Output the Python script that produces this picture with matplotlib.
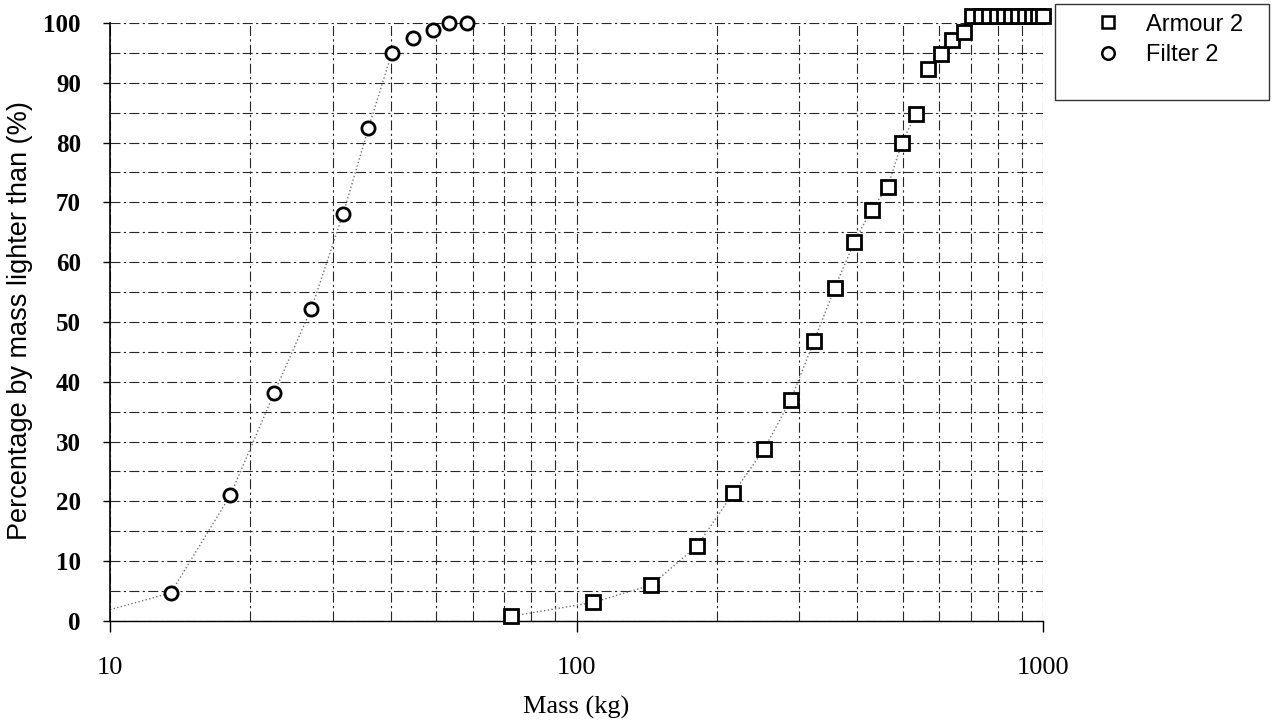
"""
Grading curves (mass distribution) for armour and filter rock
"""

import numpy as np
import matplotlib.pyplot as plt
from matplotlib.patches import Rectangle
from matplotlib.ticker import FixedLocator, NullFormatter

# 读取自原图的数据
filter_mass = [13.5, 18.1, 22.5, 27.0, 31.6, 35.8, 40.2, 44.6, 49.3, 53.4, 58.1]
filter_pct = [4.7, 21.0, 38.2, 52.2, 68.1, 82.4, 95.0, 97.5, 98.8, 100.0, 100.0]

armour_mass = [72.5, 108.4, 144.6, 181, 216.9, 252.3, 287.9, 323, 357.8, 393.6,
               429, 464.2, 498.2, 534, 567.5, 604, 637.9, 675.9,
               705, 735, 765, 795, 825, 855, 885, 915, 945, 975, 1000]
armour_pct = [0.8, 3.1, 6.0, 12.5, 21.4, 28.7, 37.0, 46.8, 55.7, 63.3,
              68.8, 72.5, 79.9, 84.8, 92.3, 94.8, 97.1, 98.5,
              101.2, 101.2, 101.2, 101.2, 101.2, 101.2, 101.2, 101.2, 101.2, 101.2, 101.2]

# 趋势线（点线）
filter_trend_mass = [10, 13.5, 18.1, 22.5, 27.0, 31.6, 35.8, 40.2]
filter_trend_pct = [1.9, 4.7, 21.0, 38.2, 52.2, 68.1, 82.4, 95.0]
armour_trend_mass = armour_mass[:14]
armour_trend_pct = armour_pct[:14]

x_ticks = [10, 100, 1000]
y_ticks = list(range(0, 101, 10))

SERIF = 'Liberation Serif'
SANS = 'Liberation Sans'

fig = plt.figure(figsize=(12.78, 7.27), dpi=100)
ax = fig.add_axes([0.0861, 0.1458, 0.7300, 0.8226])

ax.set_xscale('log')
ax.set_xlim(10, 1000)
ax.set_ylim(0, 100)

# 网格
ax.set_yticks(y_ticks)
ax.yaxis.set_minor_locator(FixedLocator(range(5, 100, 10)))
ax.set_xticks(x_ticks)
ax.xaxis.set_minor_formatter(NullFormatter())
grid_style = dict(color='0.15', linestyle=(0, (9, 3, 2, 3)), linewidth=0.8)
ax.grid(True, which='both', **grid_style)
ax.set_axisbelow(True)

for side in ['top', 'right']:
    ax.spines[side].set_visible(False)
ax.spines['left'].set_linewidth(1.2)
ax.spines['bottom'].set_linewidth(1.0)

ax.tick_params(axis='y', which='major', length=5, width=1, pad=16)
ax.tick_params(axis='x', which='major', length=8, width=1, pad=18)
ax.tick_params(which='minor', length=0)

for lab in ax.get_yticklabels():
    lab.set_fontfamily(SERIF)
    lab.set_fontsize(18)
    lab.set_fontweight('bold')
ax.set_xticklabels([str(v) for v in x_ticks], fontfamily=SERIF, fontsize=19)

# 趋势线
ax.plot(filter_trend_mass, filter_trend_pct, color='0.45', linestyle=':',
        linewidth=1.0, zorder=2)
ax.plot(armour_trend_mass, armour_trend_pct, color='0.45', linestyle=':',
        linewidth=1.0, zorder=2)

# 数据点
ax.plot(armour_mass, armour_pct, linestyle='none', marker='s', markersize=9.5,
        markerfacecolor='white', markeredgecolor='black', markeredgewidth=2.0,
        label='Armour 2', clip_on=False, zorder=4)
ax.plot(filter_mass, filter_pct, linestyle='none', marker='o', markersize=9.5,
        markerfacecolor='white', markeredgecolor='black', markeredgewidth=2.0,
        label='Filter 2', clip_on=False, zorder=4)

ax.set_xlabel('Mass (kg)', fontfamily=SERIF, fontsize=19, va='center')
ax.xaxis.set_label_coords(0.5, -0.144)
ax.set_ylabel('Percentage by mass lighter than (%)', fontfamily=SANS,
              fontsize=19.5, va='center')
ax.yaxis.set_label_coords(-0.0965, 0.503)

# 图例框
fig.patches.append(Rectangle((0.8255, 0.8624), 0.1675, 0.1321,
                             transform=fig.transFigure, fill=False,
                             edgecolor='0.2', linewidth=1.0))
leg = ax.legend(loc='upper left', bbox_to_anchor=(0.845, 1.004),
                bbox_transform=fig.transFigure, frameon=False,
                prop={'family': SANS, 'size': 17}, handlelength=1.0,
                handletextpad=1.1, labelspacing=0.35, borderpad=0.2)
for h in leg.legend_handles:
    h.set_markersize(9)
    h.set_markeredgewidth(1.8)

fig.savefig('out.png', dpi=100)
